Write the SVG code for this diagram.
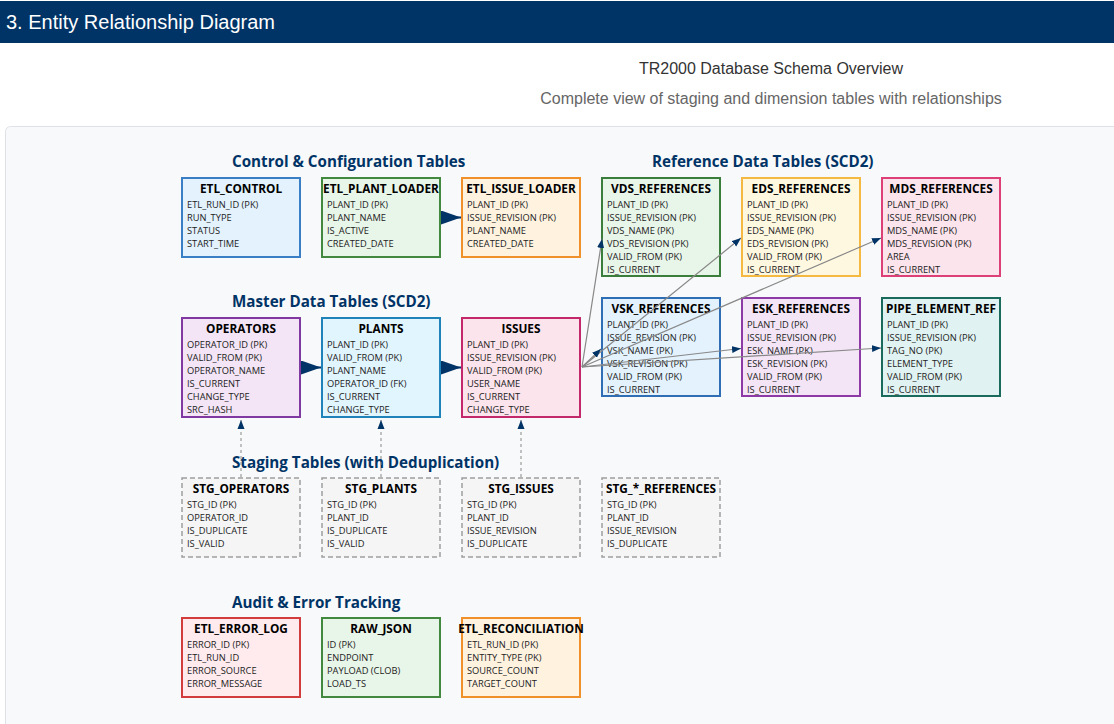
<svg xmlns="http://www.w3.org/2000/svg" width="1114" height="724" viewBox="0 0 1114 724">
  <defs>
    <style>
      .hdr { font-family: "Liberation Sans", Arial, sans-serif; font-size: 20px; fill: #ffffff; }
      .ttl { font-family: "Liberation Sans", Arial, sans-serif; font-size: 16px; fill: #333333; text-anchor: middle; }
      .sub { font-family: "Liberation Sans", Arial, sans-serif; font-size: 16px; fill: #666666; text-anchor: middle; }
      .sec { font-family: "Open Sans", "Noto Sans", sans-serif; font-size: 15.2px; font-weight: bold; fill: #003366; }
      .tn { font-family: "Open Sans", "Noto Sans", sans-serif; font-size: 11.8px; font-weight: bold; fill: #000000; text-anchor: middle; }
      .fd { font-family: "Open Sans", "Noto Sans", sans-serif; font-size: 9.3px; fill: #222222; }
      .box { stroke-width: 2; }
      .stg { fill: #f5f5f5; stroke: #9e9e9e; stroke-width: 1.5; stroke-dasharray: 5 3; }
      .rel { stroke: #003366; stroke-width: 2; fill: none; }
      .ref { stroke: #888888; stroke-width: 1.2; fill: none; }
      .load { stroke: #888888; stroke-width: 1; stroke-dasharray: 3 3; fill: none; }
    </style>
    <marker id="bigArrow" markerUnits="userSpaceOnUse" markerWidth="20" markerHeight="14" refX="20" refY="7" orient="auto">
      <path d="M0,0 L20,7 L0,14 z" fill="#003366"/>
    </marker>
    <marker id="smallArrow" markerUnits="userSpaceOnUse" markerWidth="10" markerHeight="8" refX="9" refY="4" orient="auto">
      <path d="M0,0.5 L9,4 L0,7.5 z" fill="#003366"/>
    </marker>
  </defs>

  <!-- page background -->
  <rect x="0" y="0" width="1114" height="724" fill="#ffffff"/>

  <!-- section header bar -->
  <rect x="0" y="1" width="1114" height="42" fill="#003366"/>
  <text class="hdr" x="6" y="29">3. Entity Relationship Diagram</text>

  <!-- diagram title -->
  <text class="ttl" x="771" y="74">TR2000 Database Schema Overview</text>
  <text class="sub" x="771" y="104">Complete view of staging and dimension tables with relationships</text>

  <!-- diagram panel -->
  <rect x="5.5" y="126.5" width="1120" height="610" rx="5" fill="#f8f9fa" stroke="#dee2e6" stroke-width="1"/>

  <!-- group headings -->
  <text class="sec" x="232" y="167">Control &amp; Configuration Tables</text>
  <text class="sec" x="652" y="167">Reference Data Tables (SCD2)</text>
  <text class="sec" x="232" y="307">Master Data Tables (SCD2)</text>
  <text class="sec" x="232" y="468">Staging Tables (with Deduplication)</text>
  <text class="sec" x="232" y="608">Audit &amp; Error Tracking</text>

  <!-- control tables -->
  <g id="etl_control">
    <rect class="box" x="182" y="178" width="118" height="79" fill="#e3f2fd" stroke="#3a7ec6"/>
    <text class="tn" x="241" y="193">ETL_CONTROL</text>
    <text class="fd" x="187" y="207.5">ETL_RUN_ID (PK)</text>
    <text class="fd" x="187" y="220.5">RUN_TYPE</text>
    <text class="fd" x="187" y="233.5">STATUS</text>
    <text class="fd" x="187" y="246.5">START_TIME</text>
  </g>
  <g id="etl_plant_loader">
    <rect class="box" x="322" y="178" width="118" height="79" fill="#e8f5e9" stroke="#43883f"/>
    <text class="tn" x="381" y="193">ETL_PLANT_LOADER</text>
    <text class="fd" x="327" y="207.5">PLANT_ID (PK)</text>
    <text class="fd" x="327" y="220.5">PLANT_NAME</text>
    <text class="fd" x="327" y="233.5">IS_ACTIVE</text>
    <text class="fd" x="327" y="246.5">CREATED_DATE</text>
  </g>
  <g id="etl_issue_loader">
    <rect class="box" x="462" y="178" width="118" height="79" fill="#fff3e0" stroke="#f0902a"/>
    <text class="tn" x="521" y="193">ETL_ISSUE_LOADER</text>
    <text class="fd" x="467" y="207.5">PLANT_ID (PK)</text>
    <text class="fd" x="467" y="220.5">ISSUE_REVISION (PK)</text>
    <text class="fd" x="467" y="233.5">PLANT_NAME</text>
    <text class="fd" x="467" y="246.5">CREATED_DATE</text>
  </g>

  <!-- reference tables -->
  <g id="vds_references">
    <rect class="box" x="602" y="178" width="118" height="98" fill="#e8f5e9" stroke="#3b7d3b"/>
    <text class="tn" x="661" y="193">VDS_REFERENCES</text>
    <text class="fd" x="607" y="207.5">PLANT_ID (PK)</text>
    <text class="fd" x="607" y="220.5">ISSUE_REVISION (PK)</text>
    <text class="fd" x="607" y="233.5">VDS_NAME (PK)</text>
    <text class="fd" x="607" y="246.5">VDS_REVISION (PK)</text>
    <text class="fd" x="607" y="259.5">VALID_FROM (PK)</text>
    <text class="fd" x="607" y="272.5">IS_CURRENT</text>
  </g>
  <g id="eds_references">
    <rect class="box" x="742" y="178" width="118" height="98" fill="#fff8e1" stroke="#f5b941"/>
    <text class="tn" x="801" y="193">EDS_REFERENCES</text>
    <text class="fd" x="747" y="207.5">PLANT_ID (PK)</text>
    <text class="fd" x="747" y="220.5">ISSUE_REVISION (PK)</text>
    <text class="fd" x="747" y="233.5">EDS_NAME (PK)</text>
    <text class="fd" x="747" y="246.5">EDS_REVISION (PK)</text>
    <text class="fd" x="747" y="259.5">VALID_FROM (PK)</text>
    <text class="fd" x="747" y="272.5">IS_CURRENT</text>
  </g>
  <g id="mds_references">
    <rect class="box" x="882" y="178" width="118" height="98" fill="#fce4ec" stroke="#dd3f77"/>
    <text class="tn" x="941" y="193">MDS_REFERENCES</text>
    <text class="fd" x="887" y="207.5">PLANT_ID (PK)</text>
    <text class="fd" x="887" y="220.5">ISSUE_REVISION (PK)</text>
    <text class="fd" x="887" y="233.5">MDS_NAME (PK)</text>
    <text class="fd" x="887" y="246.5">MDS_REVISION (PK)</text>
    <text class="fd" x="887" y="259.5">AREA</text>
    <text class="fd" x="887" y="272.5">IS_CURRENT</text>
  </g>
  <g id="vsk_references">
    <rect class="box" x="602" y="298" width="118" height="98" fill="#e3f2fd" stroke="#2f6db5"/>
    <text class="tn" x="661" y="313">VSK_REFERENCES</text>
    <text class="fd" x="607" y="327.5">PLANT_ID (PK)</text>
    <text class="fd" x="607" y="340.5">ISSUE_REVISION (PK)</text>
    <text class="fd" x="607" y="353.5">VSK_NAME (PK)</text>
    <text class="fd" x="607" y="366.5">VSK_REVISION (PK)</text>
    <text class="fd" x="607" y="379.5">VALID_FROM (PK)</text>
    <text class="fd" x="607" y="392.5">IS_CURRENT</text>
  </g>
  <g id="esk_references">
    <rect class="box" x="742" y="298" width="118" height="98" fill="#f3e5f5" stroke="#8e3aa6"/>
    <text class="tn" x="801" y="313">ESK_REFERENCES</text>
    <text class="fd" x="747" y="327.5">PLANT_ID (PK)</text>
    <text class="fd" x="747" y="340.5">ISSUE_REVISION (PK)</text>
    <text class="fd" x="747" y="353.5">ESK_NAME (PK)</text>
    <text class="fd" x="747" y="366.5">ESK_REVISION (PK)</text>
    <text class="fd" x="747" y="379.5">VALID_FROM (PK)</text>
    <text class="fd" x="747" y="392.5">IS_CURRENT</text>
  </g>
  <g id="pipe_element_ref">
    <rect class="box" x="882" y="298" width="118" height="98" fill="#e0f2f1" stroke="#1b6b5c"/>
    <text class="tn" x="941" y="313">PIPE_ELEMENT_REF</text>
    <text class="fd" x="887" y="327.5">PLANT_ID (PK)</text>
    <text class="fd" x="887" y="340.5">ISSUE_REVISION (PK)</text>
    <text class="fd" x="887" y="353.5">TAG_NO (PK)</text>
    <text class="fd" x="887" y="366.5">ELEMENT_TYPE</text>
    <text class="fd" x="887" y="379.5">VALID_FROM (PK)</text>
    <text class="fd" x="887" y="392.5">IS_CURRENT</text>
  </g>

  <!-- master tables -->
  <g id="operators">
    <rect class="box" x="182" y="318" width="118" height="99" fill="#f3e5f5" stroke="#8039a0"/>
    <text class="tn" x="241" y="333">OPERATORS</text>
    <text class="fd" x="187" y="347.5">OPERATOR_ID (PK)</text>
    <text class="fd" x="187" y="360.5">VALID_FROM (PK)</text>
    <text class="fd" x="187" y="373.5">OPERATOR_NAME</text>
    <text class="fd" x="187" y="386.5">IS_CURRENT</text>
    <text class="fd" x="187" y="399.5">CHANGE_TYPE</text>
    <text class="fd" x="187" y="412.5">SRC_HASH</text>
  </g>
  <g id="plants">
    <rect class="box" x="322" y="318" width="118" height="99" fill="#e1f5fe" stroke="#1f82b8"/>
    <text class="tn" x="381" y="333">PLANTS</text>
    <text class="fd" x="327" y="347.5">PLANT_ID (PK)</text>
    <text class="fd" x="327" y="360.5">VALID_FROM (PK)</text>
    <text class="fd" x="327" y="373.5">PLANT_NAME</text>
    <text class="fd" x="327" y="386.5">OPERATOR_ID (FK)</text>
    <text class="fd" x="327" y="399.5">IS_CURRENT</text>
    <text class="fd" x="327" y="412.5">CHANGE_TYPE</text>
  </g>
  <g id="issues">
    <rect class="box" x="462" y="318" width="118" height="99" fill="#fce4ec" stroke="#c2286a"/>
    <text class="tn" x="521" y="333">ISSUES</text>
    <text class="fd" x="467" y="347.5">PLANT_ID (PK)</text>
    <text class="fd" x="467" y="360.5">ISSUE_REVISION (PK)</text>
    <text class="fd" x="467" y="373.5">VALID_FROM (PK)</text>
    <text class="fd" x="467" y="386.5">USER_NAME</text>
    <text class="fd" x="467" y="399.5">IS_CURRENT</text>
    <text class="fd" x="467" y="412.5">CHANGE_TYPE</text>
  </g>

  <!-- staging tables -->
  <g id="stg_operators">
    <rect class="stg" x="182" y="478" width="118" height="79"/>
    <text class="tn" x="241" y="493">STG_OPERATORS</text>
    <text class="fd" x="187" y="507.5">STG_ID (PK)</text>
    <text class="fd" x="187" y="520.5">OPERATOR_ID</text>
    <text class="fd" x="187" y="533.5">IS_DUPLICATE</text>
    <text class="fd" x="187" y="546.5">IS_VALID</text>
  </g>
  <g id="stg_plants">
    <rect class="stg" x="322" y="478" width="118" height="79"/>
    <text class="tn" x="381" y="493">STG_PLANTS</text>
    <text class="fd" x="327" y="507.5">STG_ID (PK)</text>
    <text class="fd" x="327" y="520.5">PLANT_ID</text>
    <text class="fd" x="327" y="533.5">IS_DUPLICATE</text>
    <text class="fd" x="327" y="546.5">IS_VALID</text>
  </g>
  <g id="stg_issues">
    <rect class="stg" x="462" y="478" width="118" height="79"/>
    <text class="tn" x="521" y="493">STG_ISSUES</text>
    <text class="fd" x="467" y="507.5">STG_ID (PK)</text>
    <text class="fd" x="467" y="520.5">PLANT_ID</text>
    <text class="fd" x="467" y="533.5">ISSUE_REVISION</text>
    <text class="fd" x="467" y="546.5">IS_DUPLICATE</text>
  </g>
  <g id="stg_references">
    <rect class="stg" x="602" y="478" width="118" height="79"/>
    <text class="tn" x="661" y="493">STG_*_REFERENCES</text>
    <text class="fd" x="607" y="507.5">STG_ID (PK)</text>
    <text class="fd" x="607" y="520.5">PLANT_ID</text>
    <text class="fd" x="607" y="533.5">ISSUE_REVISION</text>
    <text class="fd" x="607" y="546.5">IS_DUPLICATE</text>
  </g>

  <!-- audit tables -->
  <g id="etl_error_log">
    <rect class="box" x="182" y="618" width="118" height="79" fill="#ffebee" stroke="#d33c3c"/>
    <text class="tn" x="241" y="633">ETL_ERROR_LOG</text>
    <text class="fd" x="187" y="647.5">ERROR_ID (PK)</text>
    <text class="fd" x="187" y="660.5">ETL_RUN_ID</text>
    <text class="fd" x="187" y="673.5">ERROR_SOURCE</text>
    <text class="fd" x="187" y="686.5">ERROR_MESSAGE</text>
  </g>
  <g id="raw_json">
    <rect class="box" x="322" y="618" width="118" height="79" fill="#e8f5e9" stroke="#43883f"/>
    <text class="tn" x="381" y="633">RAW_JSON</text>
    <text class="fd" x="327" y="647.5">ID (PK)</text>
    <text class="fd" x="327" y="660.5">ENDPOINT</text>
    <text class="fd" x="327" y="673.5">PAYLOAD (CLOB)</text>
    <text class="fd" x="327" y="686.5">LOAD_TS</text>
  </g>
  <g id="etl_reconciliation">
    <rect class="box" x="462" y="618" width="118" height="79" fill="#fff3e0" stroke="#f0902a"/>
    <text class="tn" x="521" y="633">ETL_RECONCILIATION</text>
    <text class="fd" x="467" y="647.5">ETL_RUN_ID (PK)</text>
    <text class="fd" x="467" y="660.5">ENTITY_TYPE (PK)</text>
    <text class="fd" x="467" y="673.5">SOURCE_COUNT</text>
    <text class="fd" x="467" y="686.5">TARGET_COUNT</text>
  </g>

  <!-- relationships -->
  <g id="connectors">
    <!-- parent/child keys -->
    <line class="rel" x1="441" y1="217.5" x2="461" y2="217.5" marker-end="url(#bigArrow)"/>
    <line class="rel" x1="301" y1="367.5" x2="321" y2="367.5" marker-end="url(#bigArrow)"/>
    <line class="rel" x1="441" y1="367.5" x2="461" y2="367.5" marker-end="url(#bigArrow)"/>
    <!-- issue to reference tables -->
    <line class="ref" x1="582" y1="367" x2="602" y2="239" marker-end="url(#smallArrow)"/>
    <line class="ref" x1="582" y1="367" x2="741" y2="238" marker-end="url(#smallArrow)"/>
    <line class="ref" x1="582" y1="367" x2="881" y2="238" marker-end="url(#smallArrow)"/>
    <line class="ref" x1="582" y1="367" x2="601" y2="349" marker-end="url(#smallArrow)"/>
    <line class="ref" x1="582" y1="367" x2="741" y2="348.5" marker-end="url(#smallArrow)"/>
    <line class="ref" x1="582" y1="367" x2="881" y2="348" marker-end="url(#smallArrow)"/>
    <!-- staging loads -->
    <line class="load" x1="241" y1="477" x2="241" y2="420" marker-end="url(#smallArrow)"/>
    <line class="load" x1="381" y1="477" x2="381" y2="420" marker-end="url(#smallArrow)"/>
    <line class="load" x1="521" y1="477" x2="521" y2="420" marker-end="url(#smallArrow)"/>
  </g>
</svg>
